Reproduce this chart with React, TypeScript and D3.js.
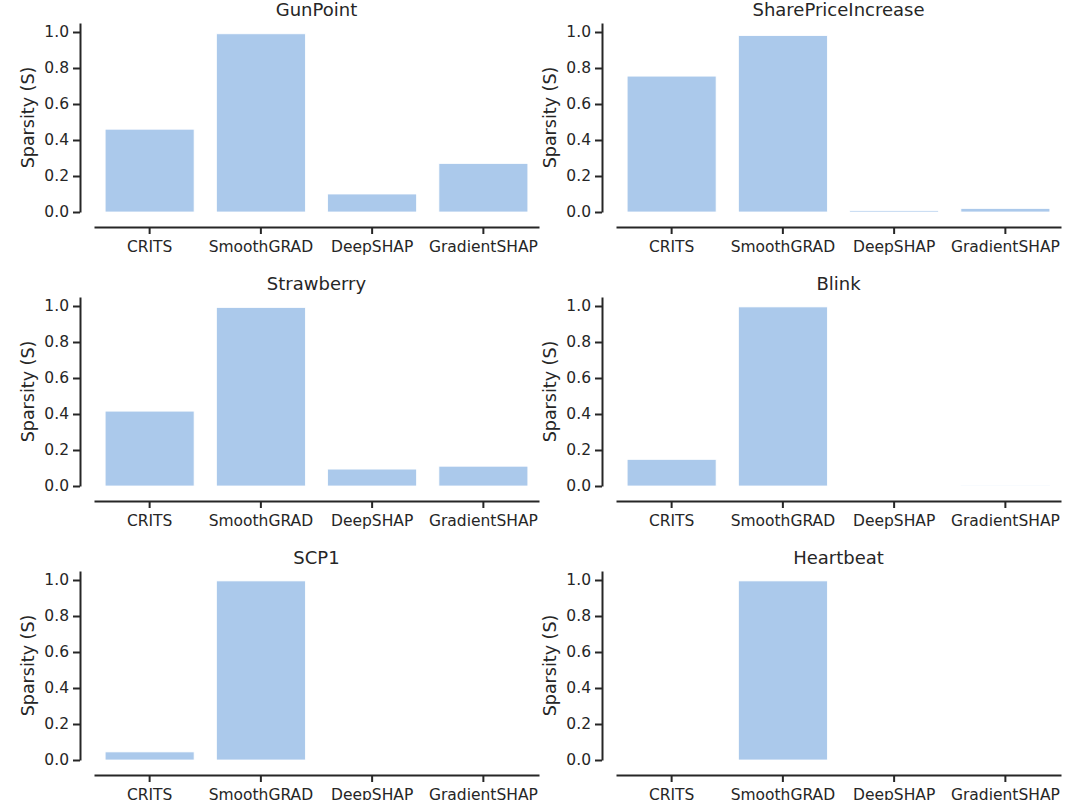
import React, { useRef, useEffect } from 'react';
import * as d3 from 'd3';

const methods = ['CRITS', 'SmoothGRAD', 'DeepSHAP', 'GradientSHAP'];
const datasets = ['GunPoint', 'SharePriceIncrease', 'Strawberry', 'Blink', 'SCP1', 'Heartbeat'];

const gunPoint = [0.46, 0.99, 0.1, 0.27];
const sharePriceIncrease = [0.755, 0.98, 0.008, 0.02];
const strawberry = [0.416, 0.992, 0.094, 0.11];
const blink = [0.148, 0.995, 0, 0.002];
const scp1 = [0.045, 0.995, 0, 0];
const heartbeat = [0, 0.995, 0, 0];

const yTicks = [0, 0.2, 0.4, 0.6, 0.8, 1.0];
const yLabel = 'Sparsity (S)';

const seriesList = [gunPoint, sharePriceIncrease, strawberry, blink, scp1, heartbeat];

const App: React.FC = () => {
  const ref = useRef<SVGSVGElement | null>(null);

  useEffect(() => {
    if (!ref.current) return;
    const svg = d3.select(ref.current);
    svg.selectAll('*').remove();

    const ink = '#262626';
    const barColor = '#abc9eb';
    const font = '"DejaVu Sans", sans-serif';

    const colX = [94, 616];
    const plotW = 445;
    const rowZero = [212, 486, 760];
    const yMax = 1.05;
    const unit = 180;
    const offset = 14;

    datasets.forEach((name, i) => {
      const col = i % 2;
      const row = Math.floor(i / 2);
      const x0 = colX[col];
      const zeroY = rowZero[row];
      const values = seriesList[i];

      const x = d3
        .scaleBand<string>()
        .domain(methods)
        .range([x0, x0 + plotW])
        .paddingInner(0.2)
        .paddingOuter(0.1);
      const y = d3
        .scaleLinear()
        .domain([0, yMax])
        .range([zeroY, zeroY - unit * yMax]);

      const g = svg.append('g');

      // bars
      g.selectAll('rect')
        .data(values)
        .join('rect')
        .attr('x', (_, j) => x(methods[j])!)
        .attr('width', x.bandwidth())
        .attr('y', (d) => y(d))
        .attr('height', (d) => zeroY - y(d))
        .attr('fill', barColor)
        .attr('stroke', '#fff')
        .attr('stroke-width', 0.8);

      // y axis (offset like sns.despine(offset=10))
      const ya = g
        .append('g')
        .attr('transform', `translate(${x0 - offset},0)`)
        .call(
          d3
            .axisLeft(y)
            .tickValues(yTicks)
            .tickFormat(d3.format('.1f'))
            .tickSize(7)
            .tickSizeOuter(0)
            .tickPadding(4)
        );
      // x axis
      const xa = g
        .append('g')
        .attr('transform', `translate(0,${zeroY + offset + 1})`)
        .call(d3.axisBottom(x).tickSize(7).tickSizeOuter(0).tickPadding(7));

      [ya, xa].forEach((a) => {
        a.selectAll('path, line').attr('stroke', ink).attr('stroke-width', 2);
        a.selectAll('text')
          .attr('fill', ink)
          .style('font-family', font)
          .style('font-size', '15.5px');
      });

      // title
      g.append('text')
        .attr('x', x0 + plotW / 2)
        .attr('y', y(yMax) - 7)
        .attr('text-anchor', 'middle')
        .attr('fill', ink)
        .style('font-family', font)
        .style('font-size', '18px')
        .text(name);

      // y label
      g.append('text')
        .attr(
          'transform',
          `translate(${x0 - 60},${(y(0) + y(yMax)) / 2}) rotate(-90)`
        )
        .attr('text-anchor', 'middle')
        .attr('fill', ink)
        .style('font-family', font)
        .style('font-size', '17.5px')
        .text(yLabel);
    });
  }, []);

  return (
    <svg
      ref={ref}
      width={1088}
      height={800}
      style={{ position: 'absolute', left: 0, top: 0, background: '#fff' }}
    />
  );
};

export default App;
